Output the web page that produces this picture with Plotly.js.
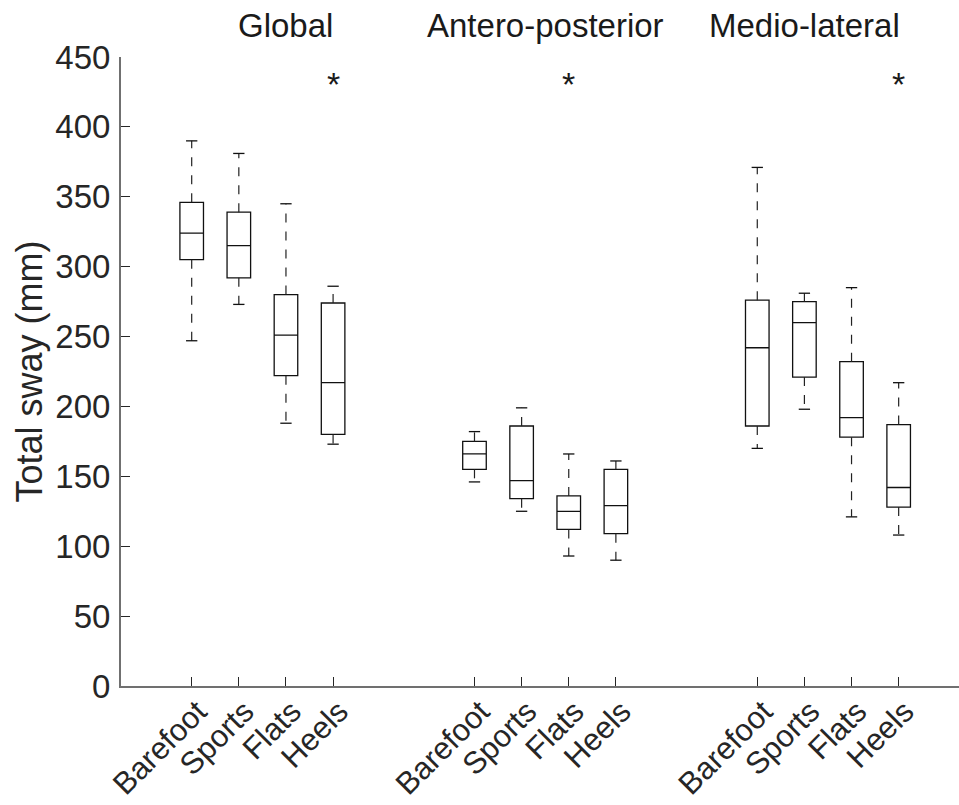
<!DOCTYPE html>
<html><head><meta charset="utf-8">
<script src="https://cdn.plot.ly/plotly-3.0.1.min.js"></script>
<style>html,body{margin:0;padding:0;background:#fff}#chart{width:959px;height:805px}</style>
</head><body><div id="chart"></div>
<script>
// ---- data ----
const groups = ['Global', 'Antero-posterior', 'Medio-lateral'];
const conditions = ['Barefoot', 'Sports', 'Flats', 'Heels'];
const lowerWhisker = [247, 273, 188, 173, 146, 125, 93, 90, 170, 198, 121, 108];
const q1 = [305, 292, 222, 180, 155, 134, 112, 109, 186, 221, 178, 128];
const median = [324, 315, 251, 217, 166, 147, 125, 129, 242, 260, 192, 142];
const q3 = [346, 339, 280, 274, 175, 186, 136, 155, 276, 275, 232, 187];
const upperWhisker = [390, 381, 345, 286, 182, 199, 166, 161, 371, 281, 285, 217];
const significant = ['Heels', 'Flats', 'Heels']; // condition marked with * in each group

// ---- build ----
const positions = [], tickText = [];
groups.forEach((g, gi) => conditions.forEach((c, ci) => {
  positions.push(gi * 6 + ci + 1); tickText.push(c);
}));

const wx = [], wy = [], cx = [], cy = [];
const capHalf = 0.12;
positions.forEach((p, i) => {
  wx.push(p, p, null, p, p, null);
  wy.push(q3[i], upperWhisker[i], null, q1[i], lowerWhisker[i], null);
  cx.push(p - capHalf, p + capHalf, null, p - capHalf, p + capHalf, null);
  cy.push(upperWhisker[i], upperWhisker[i], null, lowerWhisker[i], lowerWhisker[i], null);
});

const FONT = 'Liberation Sans, Arial, Helvetica, sans-serif';
const TXT = '#262626';

const traces = [
  {type: 'scatter', mode: 'lines', x: wx, y: wy, line: {color: '#222', width: 1.2, dash: '9px,9px'}, hoverinfo: 'skip', cliponaxis: false},
  {type: 'scatter', mode: 'lines', x: cx, y: cy, line: {color: '#111', width: 1.3}, hoverinfo: 'skip', cliponaxis: false},
  {type: 'box', x: positions, q1: q1, median: median, q3: q3, lowerfence: q1, upperfence: q3,
   width: 0.5, whiskerwidth: 0, boxpoints: false, fillcolor: 'rgba(0,0,0,0)',
   line: {color: '#111', width: 1.3}, hoverinfo: 'skip'}
];

const annotations = [];
const groupLabelX = [3, 8.5, 14];
groups.forEach((g, gi) => {
  annotations.push({text: g, x: groupLabelX[gi], xref: 'x', y: 1.0493, yref: 'paper',
    xanchor: 'center', yanchor: 'middle', showarrow: false, font: {family: FONT, size: 33, color: '#1a1a1a'}});
  const pi = gi * 4 + conditions.indexOf(significant[gi]);
  annotations.push({text: '*', x: positions[pi], xref: 'x', y: 431, yref: 'y',
    xanchor: 'center', yanchor: 'middle', showarrow: false, font: {family: FONT, size: 34, color: '#1a1a1a'}});
});

const layout = {
  width: 959, height: 805,
  margin: {l: 121, r: 0, t: 57, b: 119},
  paper_bgcolor: '#fff', plot_bgcolor: '#fff',
  showlegend: false, hovermode: false,
  xaxis: {range: [-0.5, 17.28], tickmode: 'array', tickvals: positions, ticktext: tickText,
    tickangle: -45, ticks: 'inside', ticklen: 9, tickwidth: 1, tickcolor: TXT,
    showline: true, linecolor: '#707070', linewidth: 2, showgrid: false, zeroline: false,
    ticklabelshift: 6, ticklabelstandoff: -7,
    tickfont: {family: FONT, size: 31, color: TXT}},
  yaxis: {range: [0, 450], tick0: 0, dtick: 50, ticks: 'inside', ticklen: 9, tickwidth: 1, tickcolor: TXT,
    showline: true, linecolor: '#707070', linewidth: 2, showgrid: false, zeroline: false,
    ticklabelstandoff: 2,
    tickfont: {family: FONT, size: 33, color: TXT}},
  annotations: annotations
};
layout.yaxis.title = {text: 'Total sway (mm)', standoff: 2, font: {family: FONT, size: 36, color: TXT}};

Plotly.newPlot('chart', traces, layout, {staticPlot: true, displayModeBar: false});
</script>
</body></html>
